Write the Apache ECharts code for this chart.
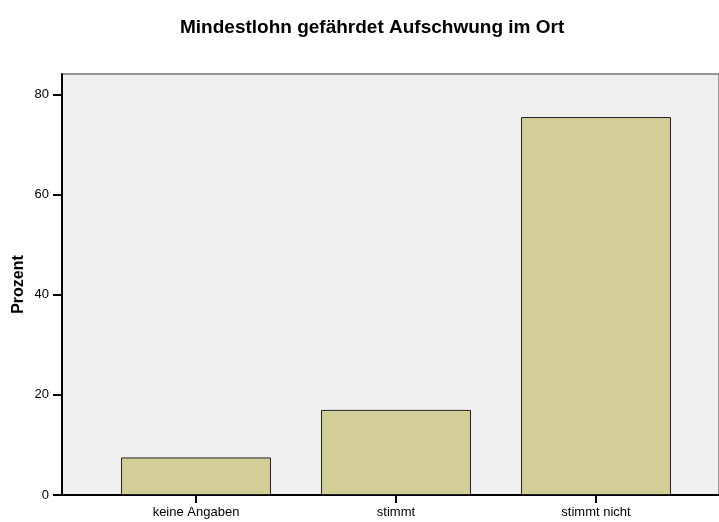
<!DOCTYPE html>
<html>
<head>
<meta charset="utf-8">
<script src="https://cdn.jsdelivr.net/npm/echarts@6/dist/echarts.min.js"></script>
<style>
  html, body { margin: 0; padding: 0; background: #fff; }
  #chart { width: 719px; height: 522px; }
</style>
</head>
<body>
<div id="chart"></div>
<script>
// Häufigkeiten (Prozent) je Antwortkategorie
const CATEGORIES = ['keine Angaben', 'stimmt', 'stimmt nicht']
const PROZENT = [7.5, 17.0, 75.5]
const Y_TICKS = [0, 20, 40, 60, 80]

const FONT = "'Liberation Sans', Arial, Helvetica, sans-serif"
const chart = echarts.init(document.getElementById('chart'), null, { renderer: 'canvas' })

const idx = CATEGORIES.map((_, i) => i)

chart.setOption({
  animation: false,
  title: {
    text: 'Mindestlohn gefährdet Aufschwung im Ort',
    left: 175, top: 13,
    textStyle: { fontFamily: FONT, fontSize: 19, fontWeight: 'bold', color: '#000' }
  },
  grid: {
    left: 62, right: 0, top: 74, bottom: 27,
    show: true, backgroundColor: '#efefef', borderColor: '#7a7a7a', borderWidth: 1.5
  },
  xAxis: {
    type: 'value',
    min: -0.67, max: 2.615,
    axisLine: { show: true, onZero: false, lineStyle: { color: '#000', width: 2 } },
    axisTick: { show: true, customValues: idx, length: 8, lineStyle: { color: '#000', width: 2 } },
    axisLabel: {
      customValues: idx, margin: 11,
      formatter: v => CATEGORIES[Math.round(v)] || '',
      fontFamily: FONT, fontSize: 13, color: '#000'
    },
    splitLine: { show: false }
  },
  yAxis: {
    type: 'value',
    min: 0, max: 84.1,
    name: 'Prozent', nameLocation: 'middle', nameGap: 35, nameMoveOverlap: false,
    nameTextStyle: { fontFamily: FONT, fontSize: 16, fontWeight: 'bold', color: '#000' },
    axisLine: { show: true, onZero: false, lineStyle: { color: '#000', width: 2 } },
    axisTick: { show: true, customValues: Y_TICKS, length: 9, lineStyle: { color: '#000', width: 2 } },
    axisLabel: {
      customValues: Y_TICKS, margin: 13,
      fontFamily: FONT, fontSize: 13, color: '#000'
    },
    splitLine: { show: false }
  },
  series: [{
    type: 'bar',
    data: PROZENT.map((v, i) => [i, v]),
    barWidth: 150,
    itemStyle: { color: '#d3ce97', borderColor: '#222', borderWidth: 1 }
  }]
})
</script>
</body>
</html>
